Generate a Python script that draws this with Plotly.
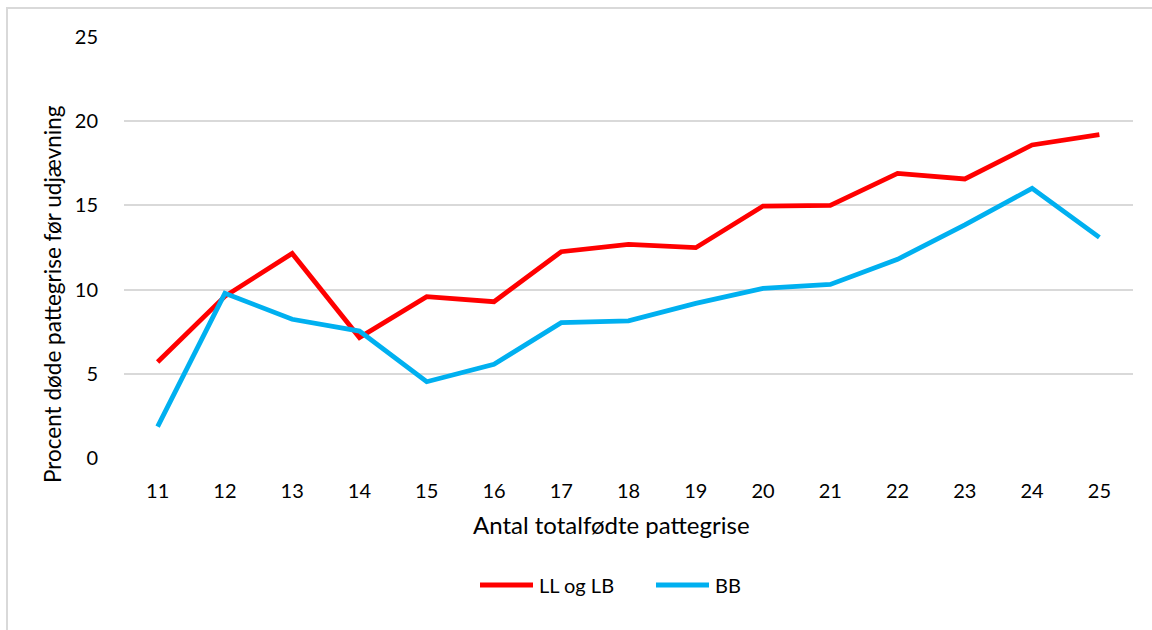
import plotly.graph_objects as go

# Antal totalfødte pattegrise pr. kuld
kuldstorrelse = [11, 12, 13, 14, 15, 16, 17, 18, 19, 20, 21, 22, 23, 24, 25]

# Procent døde pattegrise før udjævning
ll_og_lb = [5.7, 9.6, 12.15, 7.15, 9.58, 9.28, 12.25, 12.69, 12.49, 14.96, 15.0, 16.9, 16.57, 18.59, 19.2]
bb = [1.86, 9.78, 8.24, 7.54, 4.53, 5.56, 8.04, 8.14, 9.18, 10.07, 10.31, 11.8, 13.84, 16.01, 13.1]

y_ticks = [0, 5, 10, 15, 20, 25]

series = [
    ("LL og LB", ll_og_lb, "#FF0000"),
    ("BB", bb, "#00B0F0"),
]

FONT = "Lato"
TICK_SIZE = 20
TITLE_SIZE = 22.5
X_TITLE_SIZE = 24
W, H = 1152, 630
ML, MR, MT, MB = 124, 19, 37, 172
PW, PH = W - ML - MR, H - MT - MB


def px_to_paper_x(px):
    return (px - ML) / PW


def px_to_paper_y(py):
    return (H - MB - py) / PH


fig = go.Figure()
for name, values, color in series:
    fig.add_trace(go.Scatter(
        x=[str(v) for v in kuldstorrelse], y=values, name=name, mode="lines",
        line=dict(color=color, width=4.8), showlegend=False,
    ))

# Legend drawn below the x-axis title: a thick line sample followed by the series name
legend_shapes = []
legend_annotations = []
legend_y = px_to_paper_y(585)
legend_starts = [480, 656]
for (name, _, color), start in zip(series, legend_starts):
    legend_shapes.append(dict(
        type="line", xref="paper", yref="paper",
        x0=px_to_paper_x(start), x1=px_to_paper_x(start + 53), y0=legend_y, y1=legend_y,
        line=dict(color=color, width=5),
    ))
    legend_annotations.append(dict(
        text=name, xref="paper", yref="paper",
        x=px_to_paper_x(start + 57), y=legend_y, xanchor="left", yanchor="middle",
        showarrow=False, font=dict(family=FONT, size=TICK_SIZE),
    ))

fig.update_layout(
    width=W, height=H,
    margin=dict(l=ML, r=MR, t=MT, b=MB),
    paper_bgcolor="white", plot_bgcolor="white",
    font=dict(family=FONT, size=TICK_SIZE, color="#000000"),
    showlegend=False,
    xaxis=dict(
        type="category", range=[-0.5, len(kuldstorrelse) - 0.5],
        showgrid=False, zeroline=False, showline=False,
        ticks="outside", ticklen=15, tickcolor="rgba(0,0,0,0)",
        tickfont=dict(family=FONT, size=TICK_SIZE),
    ),
    yaxis=dict(
        range=[0, 25], tickvals=y_ticks, showgrid=True, gridcolor="#D9D9D9", gridwidth=1.5,
        zeroline=False, showline=False,
        ticks="outside", ticklen=21, tickcolor="rgba(0,0,0,0)",
        tickfont=dict(family=FONT, size=TICK_SIZE),
    ),
    annotations=[
        dict(text="Antal totalfødte pattegrise", xref="paper", yref="paper",
             x=px_to_paper_x(611), y=px_to_paper_y(524), xanchor="center", yanchor="middle",
             showarrow=False, font=dict(family=FONT, size=X_TITLE_SIZE)),
        dict(text="Procent døde pattegrise før udjævning", xref="paper", yref="paper",
             x=px_to_paper_x(52), y=px_to_paper_y(294), xanchor="center", yanchor="middle",
             textangle=-90, showarrow=False, font=dict(family=FONT, size=TITLE_SIZE)),
    ] + legend_annotations,
    shapes=[
        dict(type="rect", xref="paper", yref="paper",
             x0=px_to_paper_x(7), x1=px_to_paper_x(1170),
             y0=px_to_paper_y(650), y1=px_to_paper_y(8),
             line=dict(color="#D9D9D9", width=2), fillcolor="rgba(0,0,0,0)", layer="below"),
    ] + legend_shapes,
)

fig.write_html("out.html")
